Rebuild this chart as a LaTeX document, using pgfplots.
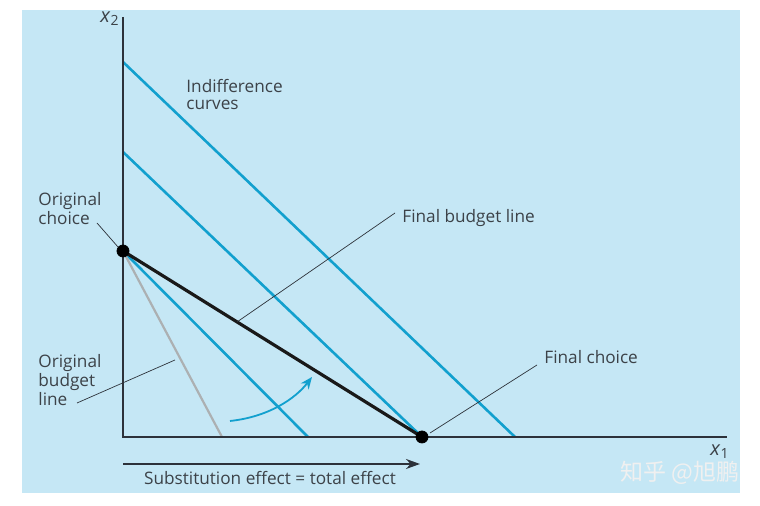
\documentclass[border=0pt]{standalone}
\usepackage{fontspec}
\setmainfont{Open Sans}
\newfontfamily\cjk{Noto Sans CJK SC}
\usepackage{pgfplots}
\pgfplotsset{compat=1.18}
\usetikzlibrary{arrows.meta}
\definecolor{panel}{RGB}{197,231,245}
\definecolor{icblue}{RGB}{18,160,206}
\definecolor{axisdark}{RGB}{45,50,58}
\definecolor{oldgrey}{RGB}{172,176,178}
\definecolor{txt}{RGB}{60,66,72}
\tikzset{lbl/.style={font=\fontsize{8.6}{8.6}\selectfont, text=txt, inner sep=0pt}}

\begin{document}
\begin{tikzpicture}
\begin{axis}[
    width=380pt, height=253pt, scale only axis,
    xmin=-123, xmax=637, ymin=-69, ymax=437,
    hide axis, clip=false,
]
% page and panel
\addplot[fill=white, draw=none] coordinates {(-123,-69) (637,-69) (637,437) (-123,437)} -- cycle;
\addplot[fill=panel, draw=none] coordinates {(-101,-56) (617,-56) (617,427) (-101,427)} -- cycle;

% indifference curves
\addplot[icblue, line width=1.3pt] coordinates {(0,186) (185,0)};
\addplot[icblue, line width=1.3pt] coordinates {(0,285) (299,0)};
\addplot[icblue, line width=1.3pt] coordinates {(0,375) (392,0)};

% budget lines
\addplot[oldgrey, line width=1.1pt] coordinates {(0,186) (99,0)};
\addplot[black!90, line width=1.6pt] coordinates {(0,186) (299,0)};

% axes
\addplot[axisdark, line width=1pt] coordinates {(0,420) (0,0) (604,0)};

% choices
\addplot[only marks, mark=*, mark size=3pt, black] coordinates {(0,186) (299,0)};

% substitution arrow and curved arrow
\draw[axisdark, line width=0.8pt, -{Stealth[length=7pt,width=5pt]}] (axis cs:0,-27) -- (axis cs:297,-27);
\draw[icblue, line width=0.9pt, -{Stealth[length=6pt,width=5pt]}] (axis cs:107,16) .. controls (axis cs:145,20) and (axis cs:172,38) .. (axis cs:189,60);

% leader lines
\draw[axisdark, line width=0.35pt] (axis cs:-26,214) -- (axis cs:-5,190);
\draw[axisdark, line width=0.35pt] (axis cs:272,224) -- (axis cs:114,115);
\draw[axisdark, line width=0.35pt] (axis cs:414,72) -- (axis cs:307,4);
\draw[axisdark, line width=0.35pt] (axis cs:-46,34) -- (axis cs:52,77);

% labels
\node[lbl, font=\fontsize{10}{10}\selectfont, anchor=center] at (axis cs:-13,418) {\textit{x}\textsubscript{2}};
\node[lbl, font=\fontsize{10}{10}\selectfont, anchor=center] at (axis cs:597,-15) {\textit{x}\textsubscript{1}};
\node[lbl, anchor=north west, align=left] at (axis cs:63,358) {Indifference\\curves};
\node[lbl, font=\fontsize{8.6}{9.5}\selectfont, anchor=north west, align=left] at (axis cs:-85,245) {Original\\choice};
\node[lbl, anchor=west] at (axis cs:279,219) {Final budget line};
\node[lbl, anchor=west] at (axis cs:421,80) {Final choice};
\node[lbl, font=\fontsize{8.6}{9.5}\selectfont, anchor=north west, align=left] at (axis cs:-85,83) {Original\\budget\\line};
\node[lbl, anchor=center] at (axis cs:147,-41) {Substitution effect = total effect};
\node[anchor=west, inner sep=0pt, text=white!88!gray, font=\cjk\fontsize{11.5}{12}\selectfont] at (axis cs:497,-36) {知乎 @旭鹏};
\end{axis}
\end{tikzpicture}
\end{document}
